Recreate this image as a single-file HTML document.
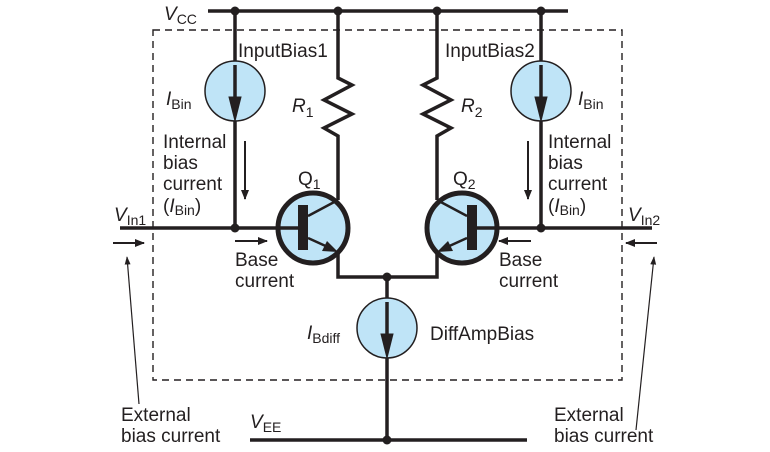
<!DOCTYPE html>
<html><head><meta charset="utf-8"><style>
html,body{margin:0;padding:0;background:#fff;}
svg{display:block;}
text{font-family:"Liberation Sans",Arial,sans-serif;fill:#231f20;}
</style></head><body>
<svg width="770" height="452" viewBox="0 0 770 452" xmlns="http://www.w3.org/2000/svg">
<defs>
<marker id="ah" viewBox="0 0 10 10" refX="9" refY="5" markerWidth="5" markerHeight="5" orient="auto-start-reverse"><path d="M0,1 L10,5 L0,9 z" fill="#231f20"/></marker>
<marker id="ah2" viewBox="0 0 10 10" refX="9" refY="5" markerWidth="7" markerHeight="7" orient="auto-start-reverse"><path d="M0,1.5 L10,5 L0,8.5 z" fill="#231f20"/></marker>
</defs>
<g stroke="#231f20" fill="none">
<rect x="153" y="30" width="469" height="350" stroke-width="1.4" stroke-dasharray="7,5"/>
<line x1="208" y1="11" x2="568" y2="11" stroke-width="3.5"/>
<line x1="235" y1="11" x2="235" y2="228" stroke-width="3.5"/>
<line x1="541" y1="11" x2="541" y2="228" stroke-width="3.5"/>
<line x1="120" y1="228" x2="300" y2="228" stroke-width="3.5"/>
<line x1="474" y1="228" x2="652" y2="228" stroke-width="3.5"/>
<polyline points="338,11 338,78 352,85 324,100 352,114 324,128 338,136 338,200" stroke-width="3.5"/>
<polyline points="437,11 437,78 423,85 451,100 423,114 451,128 437,136 437,200" stroke-width="3.5"/>
<polyline points="338,252 338,277 437,277 437,252" stroke-width="3.5"/>
<line x1="387" y1="277" x2="387" y2="440" stroke-width="3.5"/>
<line x1="250" y1="440" x2="527" y2="440" stroke-width="3.5"/>
</g>
<g stroke="#231f20" stroke-width="1.5" fill="#bfe4f7">
<circle cx="235" cy="91" r="30"/>
<circle cx="541" cy="91" r="30"/>
<circle cx="387" cy="328" r="30"/>
</g>
<g fill="#231f20" stroke="#231f20">
<line x1="235" y1="65" x2="235" y2="100" stroke-width="3.5"/>
<polygon points="229,97 241,97 235,121"/>
<line x1="541" y1="65" x2="541" y2="100" stroke-width="3.5"/>
<polygon points="535,97 547,97 541,121"/>
<line x1="387" y1="302" x2="387" y2="337" stroke-width="3.5"/>
<polygon points="381,334 393,334 387,358"/>
</g>
<g stroke="#231f20">
<circle cx="313" cy="228" r="35" fill="#bfe4f7" stroke-width="5"/>
<circle cx="462" cy="228" r="35" fill="#bfe4f7" stroke-width="5"/>
<line x1="277" y1="228" x2="300" y2="228" stroke-width="3.5"/>
<line x1="498" y1="228" x2="475" y2="228" stroke-width="3.5"/>
<rect x="298" y="205" width="10" height="45" fill="#231f20" stroke="none"/>
<rect x="467" y="205" width="10" height="45" fill="#231f20" stroke="none"/>
<line x1="308" y1="216" x2="338" y2="200" stroke-width="2.5"/>
<line x1="467" y1="216" x2="437" y2="200" stroke-width="2.5"/>
<line x1="308" y1="238" x2="330" y2="248" stroke-width="2.5"/>
<polygon points="338,252 322,251 327,241" fill="#231f20" stroke="none"/>
<line x1="467" y1="238" x2="445" y2="248" stroke-width="2.5"/>
<polygon points="437,252 453,251 448,241" fill="#231f20" stroke="none"/>
</g>
<g fill="#231f20">
<circle cx="235" cy="11" r="4.5"/><circle cx="338" cy="11" r="4.5"/>
<circle cx="437" cy="11" r="4.5"/><circle cx="541" cy="11" r="4.5"/>
<circle cx="235" cy="228" r="4.5"/><circle cx="541" cy="228" r="4.5"/>
<circle cx="387" cy="277" r="4.5"/><circle cx="387" cy="440" r="4.5"/>
</g>
<g stroke="#231f20" stroke-width="2" fill="none" marker-end="url(#ah)">
<line x1="113" y1="243" x2="144" y2="243"/>
<line x1="657" y1="243" x2="626" y2="243"/>
<line x1="235" y1="241" x2="267" y2="241"/>
<line x1="531" y1="241" x2="499" y2="241"/>
<line x1="245" y1="141" x2="245" y2="199"/>
<line x1="528" y1="141" x2="528" y2="199"/>
</g>
<g stroke="#231f20" stroke-width="1.2" fill="none">
<line x1="139" y1="404" x2="127" y2="257" marker-end="url(#ah2)"/>
<line x1="636" y1="430" x2="654" y2="257" marker-end="url(#ah2)"/>
</g>
<g font-size="19">
<text x="164" y="20"><tspan font-style="italic">V</tspan><tspan font-size="14" dy="4">CC</tspan></text>
<text x="238" y="57">InputBias1</text>
<text x="445" y="57">InputBias2</text>
<text x="166" y="105"><tspan font-style="italic">I</tspan><tspan font-size="14" dy="4">Bin</tspan></text>
<text x="578" y="105"><tspan font-style="italic">I</tspan><tspan font-size="14" dy="4">Bin</tspan></text>
<text x="292" y="112"><tspan font-style="italic">R</tspan><tspan font-size="14" dy="5">1</tspan></text>
<text x="461" y="112"><tspan font-style="italic">R</tspan><tspan font-size="14" dy="5">2</tspan></text>
<text x="163" y="148">Internal</text><text x="163" y="169">bias</text><text x="163" y="190">current</text>
<text x="163" y="212">(<tspan font-style="italic">I</tspan><tspan font-size="14" dy="3">Bin</tspan><tspan dy="-3">)</tspan></text>
<text x="548" y="148">Internal</text><text x="548" y="169">bias</text><text x="548" y="190">current</text>
<text x="548" y="212">(<tspan font-style="italic">I</tspan><tspan font-size="14" dy="3">Bin</tspan><tspan dy="-3">)</tspan></text>
<text x="298" y="185">Q<tspan font-size="14" dy="4">1</tspan></text>
<text x="453" y="185">Q<tspan font-size="14" dy="4">2</tspan></text>
<text x="114" y="221"><tspan font-style="italic">V</tspan><tspan font-size="14" dy="4">In1</tspan></text>
<text x="628" y="221"><tspan font-style="italic">V</tspan><tspan font-size="14" dy="4">In2</tspan></text>
<text x="235" y="266">Base</text><text x="235" y="287">current</text>
<text x="499" y="266">Base</text><text x="499" y="287">current</text>
<text x="307" y="339"><tspan font-style="italic">I</tspan><tspan font-size="14" dy="4">Bdiff</tspan></text>
<text x="430" y="340">DiffAmpBias</text>
<text x="121" y="421">External</text><text x="121" y="442">bias current</text>
<text x="554" y="421">External</text><text x="554" y="442">bias current</text>
<text x="250" y="428"><tspan font-style="italic">V</tspan><tspan font-size="14" dy="4">EE</tspan></text>
</g>
</svg>
</body></html>
